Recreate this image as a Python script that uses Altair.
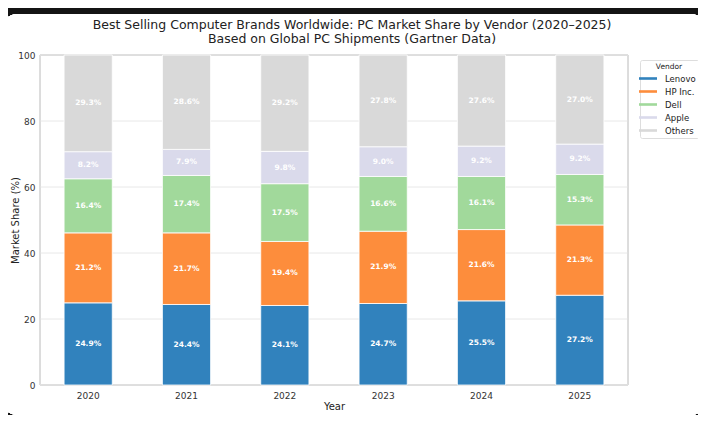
import altair as alt
import pandas as pd

years = ["2020", "2021", "2022", "2023", "2024", "2025"]
vendors = ["Lenovo", "HP Inc.", "Dell", "Apple", "Others"]
lenovo = [24.9, 24.4, 24.1, 24.7, 25.5, 27.2]
hp = [21.2, 21.7, 19.4, 21.9, 21.6, 21.3]
dell = [16.4, 17.4, 17.5, 16.6, 16.1, 15.3]
apple = [8.2, 7.9, 9.8, 9.0, 9.2, 9.2]
others = [29.3, 28.6, 29.2, 27.8, 27.6, 27.0]
colors = ["#3182bd", "#fd8d3c", "#a1d99b", "#dadaeb", "#d9d9d9"]
y_ticks = [0, 20, 40, 60, 80, 100]

series = [lenovo, hp, dell, apple, others]
rows = []
for vi, (v, vals) in enumerate(zip(vendors, series)):
    for y, val in zip(years, vals):
        rows.append({"Year": y, "Vendor": v, "Share": val, "order": vi})
df = pd.DataFrame(rows)
ticks_df = pd.DataFrame({"tick": y_ticks})

W, H = 588, 330
FONT = "DejaVu Sans"
YTITLE = "Market Share (%)"

xenc = alt.X("Year:N", title="Year",
             scale=alt.Scale(paddingInner=0.51, paddingOuter=0.245),
             axis=alt.Axis(labelAngle=0, labelPadding=6, ticks=False, domain=False,
                           titlePadding=1, grid=False, zindex=1))
yscale = alt.Scale(domain=[0, 100], nice=False)
yaxis = alt.Axis(values=y_ticks, ticks=False, domain=False, grid=False, zindex=1,
                 labelPadding=5, titleX=-20, titleY=H / 2)

card = alt.Chart(ticks_df).mark_rect(fill="white", cornerRadius=18).encode(
    x=alt.value(-40), x2=alt.value(W + 80), y=alt.value(-41), y2=alt.value(H + 30)
)
frame = alt.Chart(ticks_df).mark_rect(fill=None, stroke="#dcdcdc", strokeWidth=1).encode(
    x=alt.value(0), x2=alt.value(W), y=alt.value(0), y2=alt.value(H)
)
grid = alt.Chart(ticks_df).mark_rule(color="#e2e2e2", strokeWidth=0.8).encode(
    y=alt.Y("tick:Q", title=YTITLE, scale=yscale, axis=yaxis)
)

bars = alt.Chart(df).mark_bar(stroke="white", strokeWidth=0.8).encode(
    x=xenc,
    y=alt.Y("Share:Q", stack="zero", title=YTITLE, scale=yscale, axis=yaxis),
    color=alt.Color("Vendor:N", sort=vendors,
                    scale=alt.Scale(domain=vendors, range=colors),
                    legend=alt.Legend(title="Vendor", orient="none", legendX=600, legendY=5,
                                      strokeColor="#dddddd", padding=3, cornerRadius=2,
                                      fillColor="white", zindex=2,
                                      titleFontSize=7.5, titleFontWeight="normal",
                                      titleAnchor="middle", titleColor="#222",
                                      labelFontSize=8.5, labelColor="#222",
                                      symbolType="M-1.8,-0.26L1.8,-0.26L1.8,0.26L-1.8,0.26Z",
                                      symbolSize=100, symbolStrokeWidth=0,
                                      rowPadding=3, labelOffset=12, titlePadding=3)),
    order=alt.Order("order:Q"),
)

labels = alt.Chart(df).transform_stack(
    stack="Share", groupby=["Year"], sort=[alt.SortField("order")], as_=["y0", "y1"]
).transform_calculate(
    mid="(datum.y0 + datum.y1) / 2",
    lab="format(datum.Share, '.1f') + '%'"
).mark_text(color="white", fontWeight="bold", fontSize=7.5, font=FONT).encode(
    x=xenc,
    y=alt.Y("mid:Q", title=YTITLE, scale=yscale, axis=yaxis),
    text="lab:N",
)

chart = alt.layer(card, frame, grid, bars, labels).properties(
    width=W, height=H,
    autosize=alt.AutoSizeParams(type="none"),
    padding={"left": 32, "top": 47, "right": 70, "bottom": 30},
    background="#141414",
    title=alt.Title(
        ["Best Selling Computer Brands Worldwide: PC Market Share by Vendor (2020\u20132025)",
         "Based on Global PC Shipments (Gartner Data)"],
        fontSize=12.5, fontWeight="normal", font=FONT, color="#222",
        anchor="middle", dx=18, dy=41, offset=10, lineHeight=14, zindex=2),
).configure_axis(
    labelFont=FONT, titleFont=FONT, labelFontSize=9, titleFontSize=10,
    labelColor="#333", titleColor="#222", titleFontWeight="normal"
).configure_legend(labelFont=FONT, titleFont=FONT)

chart.save("out.html", embed_options={"renderer": "svg", "actions": False})
